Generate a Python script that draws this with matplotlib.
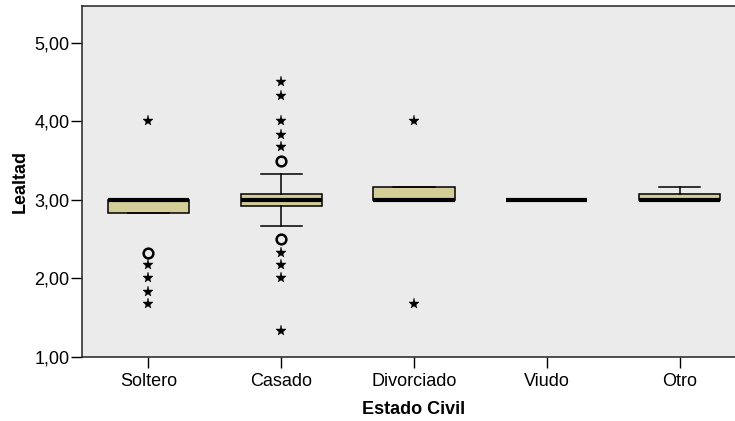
import numpy as np
import matplotlib
matplotlib.use("Agg")
import matplotlib.pyplot as plt

plt.rcParams['font.family'] = ['Liberation Sans', 'DejaVu Sans']

categories = ['Soltero', 'Casado', 'Divorciado', 'Viudo', 'Otro']
q1 = [2.83, 2.92, 3.00, 3.00, 3.00]
med = [3.00, 3.00, 3.00, 3.00, 3.00]
q3 = [3.00, 3.08, 3.17, 3.00, 3.08]
whislo = [2.83, 2.67, 3.00, 3.00, 3.00]
whishi = [3.00, 3.33, 3.17, 3.00, 3.17]

# outliers (circles) and extremes (stars) per category
circles = [[2.33], [3.50, 2.50], [], [], []]
stars = [[4.00, 2.17, 2.00, 1.83, 1.67],
         [4.50, 4.33, 4.00, 3.83, 3.67, 2.33, 2.17, 2.00, 1.33],
         [4.00, 1.67], [], []]

stats = []
for i, c in enumerate(categories):
    stats.append(dict(label=c, q1=q1[i], med=med[i], q3=q3[i],
                      whislo=whislo[i], whishi=whishi[i], fliers=[]))

fig = plt.figure(figsize=(7.35, 4.21), dpi=100)
ax = fig.add_axes([82/735, 1 - 357/421, 5*132.8/735, (357-6)/421])
ax.set_facecolor('#EBEBEB')

pos = np.arange(1, len(categories) + 1)
ax.bxp(stats, positions=pos, widths=0.61, patch_artist=True, showfliers=False,
       boxprops=dict(facecolor='#D3CE97', edgecolor='black', linewidth=1.1),
       medianprops=dict(color='black', linewidth=3),
       whiskerprops=dict(color='black', linewidth=1.1),
       capprops=dict(color='black', linewidth=1.1),
       capwidths=0.31)

for i in range(len(categories)):
    if circles[i]:
        ax.plot([pos[i]] * len(circles[i]), circles[i], 'o', ms=7,
                mfc='none', mec='black', mew=1.8)
    if stars[i]:
        ax.plot([pos[i]] * len(stars[i]), stars[i], '*', ms=8,
                color='black', mew=0.3)

ax.set_xlim(0.5, 5.5)
ax.set_ylim(1, 5.47)
ax.set_yticks([1, 2, 3, 4, 5])
ax.set_yticklabels(['1,00', '2,00', '3,00', '4,00', '5,00'])
ax.set_xticks(pos)
ax.set_xticklabels(categories)
ax.tick_params(direction='out', length=8, width=1, labelsize=13, colors='black', pad=1)
ax.tick_params(axis='x', pad=3.5)
for s in ax.spines.values():
    s.set_linewidth(1.1)
    s.set_color('#222222')

ax.set_xlabel('Estado Civil', fontsize=13, fontweight='bold', labelpad=8)
ax.set_ylabel('Lealtad', fontsize=13, fontweight='bold', labelpad=4)

fig.savefig('out.png', dpi=100)
